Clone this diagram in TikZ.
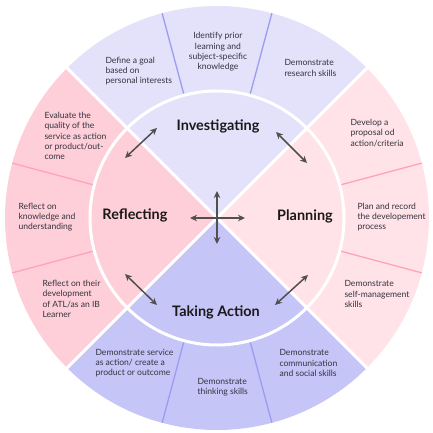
\documentclass[tikz,border=0pt]{standalone}
\usepackage{fontspec}
\setmainfont{Lato}
\usepackage{tikz}
\usetikzlibrary{arrows.meta}
\usepackage{xcolor}
\definecolor{investfill}{HTML}{E3E2FA}
\definecolor{planfill}{HTML}{FFE3E8}
\definecolor{actfill}{HTML}{C6C5F8}
\definecolor{reflfill}{HTML}{FFCFD9}
\definecolor{bluediv}{HTML}{9C9CF2}
\definecolor{pinkdiv}{HTML}{FFA3B5}
\definecolor{arrowgray}{HTML}{505050}
\definecolor{skilltext}{HTML}{33333F}

\begin{document}
\begin{tikzpicture}[x=1bp, y=1bp,
    stage/.style={font=\bfseries\fontsize{14.5}{16}\selectfont, text=black!90},
    skill/.style={font=\fontsize{8.6}{10.3}\selectfont, align=left, anchor=west, text=skilltext},
    arrow/.style={{Stealth[length=7bp,width=6.5bp]}-{Stealth[length=7bp,width=6.5bp]}, line width=1.5bp, draw=arrowgray},
    spoke/.style={-{Stealth[length=7bp,width=6.5bp]}, line width=1.5bp, draw=arrowgray},
    gap/.style={draw=white, line width=3bp}
]
\useasboundingbox (-217,-215) rectangle (216,218);

% quadrants
\fill[investfill] (0,0) -- (45:212) arc[start angle=45, end angle=135, radius=212] -- cycle;
\fill[reflfill]   (0,0) -- (135:212) arc[start angle=135, end angle=225, radius=212] -- cycle;
\fill[actfill]    (0,0) -- (225:212) arc[start angle=225, end angle=315, radius=212] -- cycle;
\fill[planfill]   (0,0) -- (-45:212) arc[start angle=-45, end angle=45, radius=212] -- cycle;

% dividers in the outer ring
\foreach \ang in {75,105,255,285}
    \draw[bluediv, line width=1.3bp] (\ang:127) -- (\ang:212);
\foreach \ang in {15,-15,165,195}
    \draw[pinkdiv, line width=1.3bp] (\ang:127) -- (\ang:212);

\draw[gap] (0,0) circle[radius=127];
\foreach \ang in {45,135,225,315}
    \draw[gap] (0,0) -- (\ang:213);

% stages
\node[stage] (invest) at (1,92)   {Investigating};
\node[stage] (reflect) at (-82,3) {Reflecting};
\node[stage] (plan) at (88,2)     {Planning};
\node[stage] (act) at (-1,-94)    {Taking Action};

% skills
\node[skill] (goal) at (-115,147) {Define a goal\\based on\\personal interests};
\node[skill, align=center, anchor=center] (prior) at (1,166) {Identify prior\\learning and\\subject-specific\\knowledge};
\node[skill] (research) at (64,150) {Demonstrate\\research skills};

\node[skill] (proposal) at (130,85) {Develop a\\proposal od\\action/criteria};
\node[skill] (record) at (137,1)    {Plan and record\\the developement\\process};
\node[skill] (selfman) at (124,-76) {Demonstrate\\self-management\\skills};

\node[skill] (service) at (-125,-145) {Demonstrate service\\as action/ create a\\product or outcome};
\node[skill] (thinking) at (-23,-169) {Demonstrate\\thinking skills};
\node[skill] (social) at (59,-145)    {Demonstrate\\communication\\and social skills};

\node[skill] (evaluate) at (-176,82)  {Evaluate the\\quality of the\\service as action\\or product/out-\\come};
\node[skill] (knowledge) at (-202,1)  {Reflect on\\knowledge and\\understanding};
\node[skill] (atl) at (-178,-81)      {Reflect on their\\development\\of ATL/as an IB\\Learner};

% arrows between stages
\coordinate (ul1) at (-92,60);  \coordinate (ul2) at (-60,90);
\coordinate (ur1) at (59,86);   \coordinate (ur2) at (90,55);
\coordinate (ll1) at (-92,-56); \coordinate (ll2) at (-60,-87);
\coordinate (lr1) at (58,-87);  \coordinate (lr2) at (91,-57);
\draw[arrow] (ul1) -- (ul2);
\draw[arrow] (ur1) -- (ur2);
\draw[arrow] (ll1) -- (ll2);
\draw[arrow] (lr1) -- (lr2);

% centre cross
\coordinate (hub) at (0,0);
\coordinate (hubN) at (0,27);
\coordinate (hubS) at (0,-26);
\coordinate (hubW) at (-27,0);
\coordinate (hubE) at (28,0);
\foreach \tip in {hubN,hubS,hubW,hubE}
    \draw[spoke] (hub) -- (\tip);
\end{tikzpicture}
\end{document}
